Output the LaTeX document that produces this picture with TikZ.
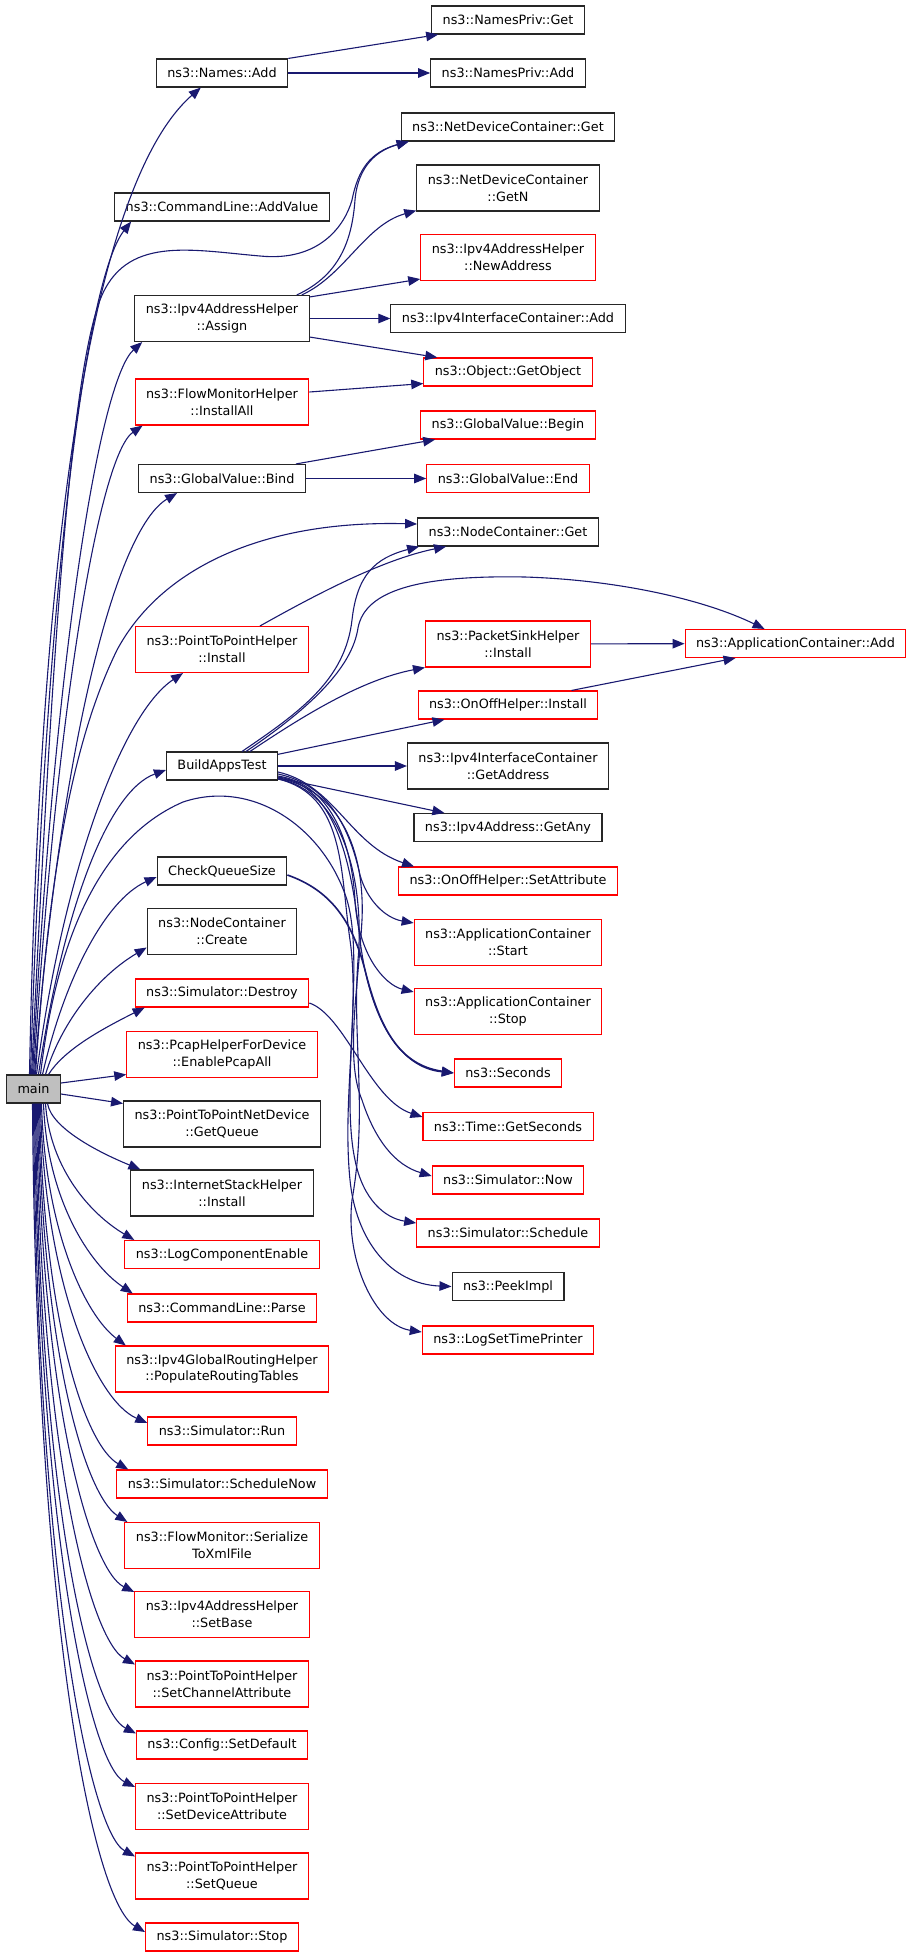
\documentclass[tikz,border=0pt]{standalone}
\usepackage{fontspec}
\setmainfont{DejaVu Sans}
\usetikzlibrary{arrows.meta}
\definecolor{calledge}{HTML}{191970}
\definecolor{rootfill}{HTML}{BFBFBF}
\colorlet{border}{black!85}
\colorlet{nodoc}{red}
\newcommand\callerx{222}
\newcommand\calleex{508}

\begin{document}
\begin{tikzpicture}[x=1pt, y=-1pt]
    \tikzset{
        fn/.style={
            draw=border, fill=white, line width=1.1pt,
            inner xsep=11pt, inner ysep=2pt,
            minimum height=28pt, align=center,
            font=\fontsize{12.8}{16.7}\selectfont,
        },
        undoc/.style={fn, draw=nodoc},
        tall/.style={minimum height=46pt},
        root/.style={fn, fill=rootfill},
        call/.style={
            draw=calledge, line width=1.1pt,
            -{Triangle[length=12pt, width=9.5pt]},
        },
    }
    \useasboundingbox (0,0) rectangle (912,1957);

    % Root
    \node[root] (main) at (33.5,1089) {main};

    % Callers column
    \node[fn] (names-add) at (\callerx,73) {ns3::Names::Add};
    \node[fn] (cmdline-addvalue) at (\callerx,207) {ns3::CommandLine::AddValue};
    \node[fn, tall] (v4helper-assign) at (\callerx,318.5) {ns3::Ipv4AddressHelper\\::Assign};
    \node[undoc, tall] (flowmon-installall) at (\callerx,402) {ns3::FlowMonitorHelper\\::InstallAll};
    \node[fn] (gvalue-bind) at (\callerx,478.5) {ns3::GlobalValue::Bind};
    \node[undoc, tall] (p2p-install) at (\callerx,649.5) {ns3::PointToPointHelper\\::Install};
    \node[fn] (build-apps) at (\callerx,766) {BuildAppsTest};
    \node[fn] (check-queue) at (\callerx,871) {CheckQueueSize};
    \node[fn, tall] (nodes-create) at (\callerx,931.5) {ns3::NodeContainer\\::Create};
    \node[undoc] (sim-destroy) at (\callerx,993) {ns3::Simulator::Destroy};
    \node[undoc, tall] (pcap-all) at (\callerx,1054.5) {ns3::PcapHelperForDevice\\::EnablePcapAll};
    \node[fn, tall] (p2pdev-getqueue) at (\callerx,1124) {ns3::PointToPointNetDevice\\::GetQueue};
    \node[fn, tall] (stack-install) at (\callerx,1193) {ns3::InternetStackHelper\\::Install};
    \node[undoc] (log-enable) at (\callerx,1254.5) {ns3::LogComponentEnable};
    \node[undoc] (cmdline-parse) at (\callerx,1308) {ns3::CommandLine::Parse};
    \node[undoc, tall] (routing-populate) at (\callerx,1369) {ns3::Ipv4GlobalRoutingHelper\\::PopulateRoutingTables};
    \node[undoc] (sim-run) at (\callerx,1431) {ns3::Simulator::Run};
    \node[undoc] (sim-schedulenow) at (\callerx,1484) {ns3::Simulator::ScheduleNow};
    \node[undoc, tall] (flowmon-serialize) at (\callerx,1545.5) {ns3::FlowMonitor::Serialize\\ToXmlFile};
    \node[undoc, tall] (v4helper-setbase) at (\callerx,1614.5) {ns3::Ipv4AddressHelper\\::SetBase};
    \node[undoc, tall] (p2p-setchannel) at (\callerx,1684) {ns3::PointToPointHelper\\::SetChannelAttribute};
    \node[undoc] (config-setdefault) at (\callerx,1745) {ns3::Config::SetDefault};
    \node[undoc, tall] (p2p-setdevice) at (\callerx,1806.5) {ns3::PointToPointHelper\\::SetDeviceAttribute};
    \node[undoc, tall] (p2p-setqueue) at (\callerx,1876) {ns3::PointToPointHelper\\::SetQueue};
    \node[undoc] (sim-stop) at (\callerx,1937) {ns3::Simulator::Stop};

    % Callees column
    \node[fn] (privnames-get) at (\calleex,20) {ns3::NamesPriv::Get};
    \node[fn] (privnames-add) at (\calleex,73) {ns3::NamesPriv::Add};
    \node[fn] (devices-get) at (\calleex,127) {ns3::NetDeviceContainer::Get};
    \node[fn, tall] (devices-getn) at (\calleex,188) {ns3::NetDeviceContainer\\::GetN};
    \node[undoc, tall] (v4helper-newaddress) at (\calleex,257.5) {ns3::Ipv4AddressHelper\\::NewAddress};
    \node[fn] (ifaces-add) at (\calleex,318.5) {ns3::Ipv4InterfaceContainer::Add};
    \node[undoc] (object-getobject) at (\calleex,372) {ns3::Object::GetObject};
    \node[undoc] (gvalue-begin) at (\calleex,425) {ns3::GlobalValue::Begin};
    \node[undoc] (gvalue-end) at (\calleex,478.5) {ns3::GlobalValue::End};
    \node[fn] (nodes-get) at (\calleex,532) {ns3::NodeContainer::Get};
    \node[undoc, tall] (sink-install) at (\calleex,644) {ns3::PacketSinkHelper\\::Install};
    \node[undoc] (onoff-install) at (\calleex,705) {ns3::OnOffHelper::Install};
    \node[fn, tall] (ifaces-getaddress) at (\calleex,766) {ns3::Ipv4InterfaceContainer\\::GetAddress};
    \node[fn] (v4addr-getany) at (\calleex,827.5) {ns3::Ipv4Address::GetAny};
    \node[undoc] (onoff-setattribute) at (\calleex,881) {ns3::OnOffHelper::SetAttribute};
    \node[undoc, tall] (apps-start) at (\calleex,942.5) {ns3::ApplicationContainer\\::Start};
    \node[undoc, tall] (apps-stop) at (\calleex,1011.5) {ns3::ApplicationContainer\\::Stop};
    \node[undoc] (seconds) at (\calleex,1073) {ns3::Seconds};
    \node[undoc] (time-getseconds) at (\calleex,1126.5) {ns3::Time::GetSeconds};
    \node[undoc] (sim-now) at (\calleex,1180) {ns3::Simulator::Now};
    \node[undoc] (sim-schedule) at (\calleex,1233) {ns3::Simulator::Schedule};
    \node[fn] (peekimpl) at (\calleex,1286.5) {ns3::PeekImpl};
    \node[undoc] (log-timeprinter) at (\calleex,1340) {ns3::LogSetTimePrinter};
    \node[undoc] (apps-add) at (795.5,643.5) {ns3::ApplicationContainer::Add};

    % main, upwards
    \draw[call] ([xshift=-4pt]main.north) .. controls (40,520) and (95,180) .. ([xshift=45pt]names-add.south west);
    \draw[call] ([xshift=-3pt]main.north) .. controls (45,600) and (85,280) .. ([xshift=17pt]cmdline-addvalue.south west);
    \draw[call] ([xshift=-2pt]main.north) .. controls (50,700) and (68,385) .. (100,300)
        .. controls (125,235) and (190,250) .. (260,256)
        .. controls (320,262) and (345,225) .. (352,200)
        .. controls (358,170) and (370,152) .. ([xshift=8pt]devices-get.south west);
    \draw[call] ([xshift=-1pt]main.north) .. controls (55,650) and (100,380) .. ([xshift=8pt]v4helper-assign.south west);
    \draw[call] (main.north) .. controls (57,700) and (100,455) .. ([xshift=8pt]flowmon-installall.south west);
    \draw[call] ([xshift=1pt]main.north) .. controls (60,750) and (115,530) .. ([xshift=39pt]gvalue-bind.south west);
    \draw[call] ([xshift=2pt]main.north) .. controls (50,850) and (78,730) .. (117,650)
        .. controls (160,570) and (260,520) .. ([yshift=8pt]nodes-get.west);
    \draw[call] ([xshift=3pt]main.north) .. controls (62,880) and (120,715) .. ([xshift=48pt]p2p-install.south west);
    \draw[call] ([xshift=5pt]main.north) .. controls (65,900) and (110,790) .. ([yshift=-4pt]build-apps.west);
    \draw[call] ([xshift=7pt]main.north) .. controls (55,950) and (95,840) .. (183,802)
        .. controls (255,778) and (325,830) .. (347,900)
        .. controls (365,960) and (340,1090) .. (355,1160)
        .. controls (363,1200) and (385,1218) .. ([yshift=10pt]sim-schedule.west);
    \draw[call] ([xshift=9pt]main.north) .. controls (64,980) and (105,900) .. ([yshift=-6pt]check-queue.west);
    \draw[call] ([xshift=12pt]main.north) .. controls (62,1020) and (100,975) .. ([yshift=-16pt]nodes-create.west);
    \draw[call] ([xshift=15pt]main.north) .. controls (64,1050) and (100,1030) .. ([xshift=10pt]sim-destroy.south west);

    % main, sideways
    \draw[call] ([yshift=6pt]main.east) -- ([yshift=-20pt]pcap-all.west);
    \draw[call] ([yshift=-5pt]main.east) -- ([yshift=-3pt]p2pdev-getqueue.north west);

    % main, downwards
    \draw[call] ([xshift=14pt]main.south) .. controls (52,1130) and (105,1155) .. ([xshift=10pt]stack-install.north west);
    \draw[call] ([xshift=12pt]main.south) .. controls (50,1170) and (92,1215) .. ([xshift=10pt]log-enable.north west);
    \draw[call] ([xshift=10pt]main.south) .. controls (47,1200) and (90,1265) .. ([xshift=6pt]cmdline-parse.north west);
    \draw[call] ([xshift=8pt]main.south) .. controls (45,1230) and (85,1315) .. ([xshift=11pt]routing-populate.north west);
    \draw[call] ([xshift=7pt]main.south) .. controls (44,1280) and (95,1400) .. ([yshift=8pt]sim-run.west);
    \draw[call] ([xshift=6pt]main.south) .. controls (43,1320) and (85,1445) .. ([xshift=12pt]sim-schedulenow.north west);
    \draw[call] ([xshift=5pt]main.south) .. controls (42,1350) and (85,1495) .. ([xshift=3pt]flowmon-serialize.north west);
    \draw[call] ([xshift=4pt]main.south) .. controls (41,1400) and (90,1570) .. ([yshift=-1pt]v4helper-setbase.north west);
    \draw[call] ([xshift=3pt]main.south) .. controls (40,1450) and (90,1640) .. ([yshift=-4pt]p2p-setchannel.north west);
    \draw[call] ([xshift=2pt]main.south) .. controls (39,1500) and (90,1710) .. ([yshift=-3pt]config-setdefault.north west);
    \draw[call] ([xshift=1pt]main.south) .. controls (38,1530) and (90,1765) .. ([yshift=-4pt]p2p-setdevice.north west);
    \draw[call] (main.south) .. controls (37,1580) and (90,1832) .. ([yshift=-4pt]p2p-setqueue.north west);
    \draw[call] ([xshift=-1pt]main.south) .. controls (36,1600) and (90,1900) .. ([yshift=5pt]sim-stop.west);

    % Names
    \draw[call] (names-add.north east) -- ([xshift=7pt]privnames-get.south west);
    \draw[call] (names-add) -- (privnames-add);

    % Ipv4AddressHelper::Assign
    \draw[call] ([xshift=-13pt]v4helper-assign.north east) .. controls (340,275) and (352,240) .. (355,200)
        .. controls (358,165) and (378,150) .. ([xshift=8pt]devices-get.south west);
    \draw[call] ([xshift=-8pt]v4helper-assign.north east) .. controls (345,275) and (365,225) .. ([yshift=1pt]devices-getn.south west);
    \draw[call] ([yshift=-2pt]v4helper-assign.north east) -- ([yshift=2pt]v4helper-newaddress.south west);
    \draw[call] (v4helper-assign) -- (ifaces-add);
    \draw[call] ([yshift=5pt]v4helper-assign.south east) -- ([xshift=14pt]object-getobject.north west);
    \draw[call] ([yshift=10pt]flowmon-installall.east) -- ([yshift=3pt]object-getobject.south west);

    % GlobalValue
    \draw[call] ([xshift=-10pt]gvalue-bind.north east) -- ([xshift=15pt]gvalue-begin.south west);
    \draw[call] (gvalue-bind) -- (gvalue-end);

    % PointToPointHelper::Install
    \draw[call] ([xshift=38pt]p2p-install.north) .. controls (310,598) and (380,560) .. ([xshift=29pt]nodes-get.south west);

    % BuildAppsTest
    \draw[call] ([xshift=20pt]build-apps.north) .. controls (300,712) and (345,680) .. (352,620)
        .. controls (357,575) and (375,558) .. ([xshift=2pt]nodes-get.south west);
    \draw[call] ([xshift=24pt]build-apps.north) .. controls (310,708) and (352,668) .. (358,628)
        .. controls (365,590) and (420,575) .. (525,577)
        .. controls (620,580) and (705,600) .. ([xshift=80pt]apps-add.north west);
    \draw[call] ([xshift=28pt]build-apps.north) .. controls (300,718) and (360,680) .. (sink-install.south west);
    \draw[call] (build-apps) -- ([xshift=27pt]onoff-install.south west);
    \draw[call] (build-apps) -- (ifaces-getaddress);
    \draw[call] (build-apps) -- ([xshift=31pt]v4addr-getany.north west);
    \draw[call] ([yshift=-6pt]build-apps.east) .. controls (335,785) and (350,845) .. ([xshift=16pt]onoff-setattribute.north west);
    \draw[call] ([yshift=-8pt]build-apps.east) .. controls (330,785) and (350,830) .. (360,875)
        .. controls (367,900) and (385,918) .. ([yshift=-4pt]apps-start.north west);
    \draw[call] ([yshift=-10pt]build-apps.east) .. controls (335,785) and (352,850) .. (355,900)
        .. controls (358,955) and (385,985) .. ([yshift=-4pt]apps-stop.north west);
    \draw[call] ([yshift=-11pt]build-apps.east) .. controls (338,785) and (352,870) .. (360,940)
        .. controls (370,1020) and (400,1068) .. (seconds.west);
    \draw[call] ([yshift=-12pt]build-apps.east) .. controls (340,790) and (365,850) .. (362,920)
        .. controls (358,990) and (345,1060) .. (362,1100)
        .. controls (375,1140) and (395,1165) .. ([yshift=4pt]sim-now.west);
    \draw[call] ([yshift=-13pt]build-apps.east) .. controls (345,795) and (340,870) .. (350,940)
        .. controls (360,1010) and (342,1100) .. (350,1180)
        .. controls (356,1240) and (390,1284) .. (peekimpl.west);
    \draw[call] ([yshift=-13pt]build-apps.east) .. controls (342,790) and (365,880) .. (358,960)
        .. controls (352,1040) and (368,1110) .. (352,1200)
        .. controls (345,1260) and (375,1325) .. ([yshift=8pt]log-timeprinter.west);

    % CheckQueueSize
    \draw[call, line width=1.6pt] ([yshift=-4pt]check-queue.east) .. controls (330,890) and (352,920) .. (365,970)
        .. controls (380,1030) and (400,1065) .. (seconds.west);

    % Simulator::Destroy
    \draw[call] ([yshift=-10pt]sim-destroy.east) .. controls (345,1015) and (370,1100) .. ([yshift=-5pt]time-getseconds.north west);

    % ApplicationContainer::Add
    \draw[call] (sink-install) -- (apps-add);
    \draw[call] ([xshift=-27pt]onoff-install.north east) -- ([xshift=51pt]apps-add.south west);
\end{tikzpicture}
\end{document}
